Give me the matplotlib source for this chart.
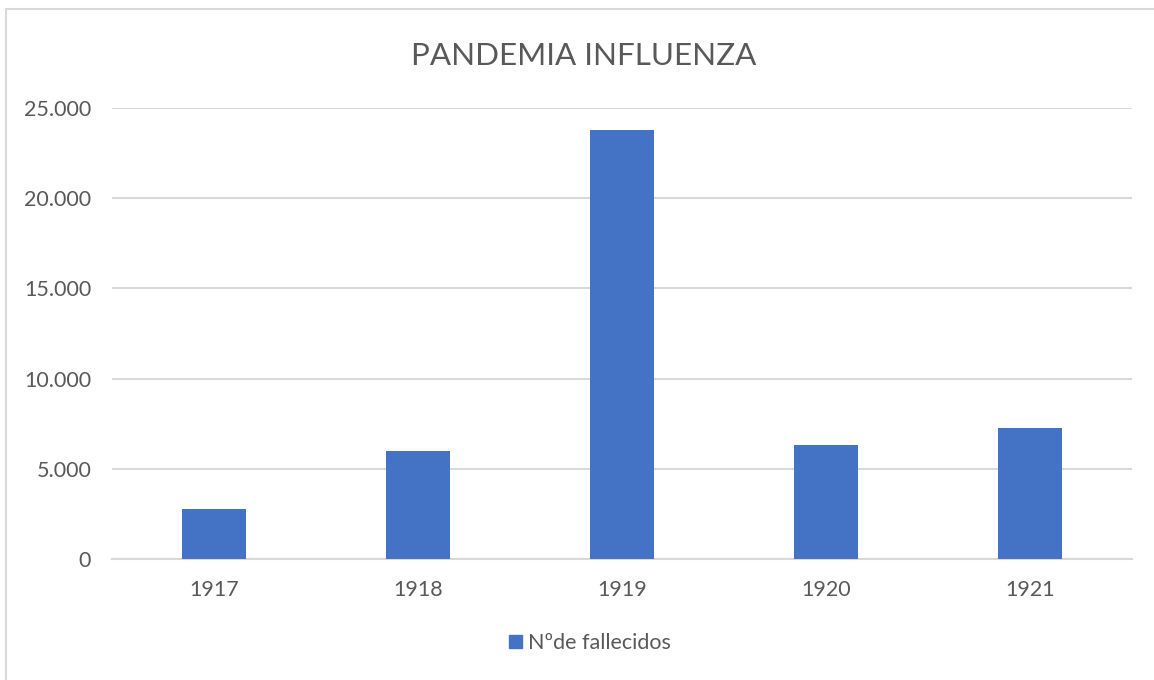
import matplotlib
matplotlib.use("Agg")
import matplotlib.pyplot as plt
from matplotlib.ticker import FuncFormatter
from matplotlib.lines import Line2D
from matplotlib.patches import Patch

years = ["1917", "1918", "1919", "1920", "1921"]
deaths = [2750, 6000, 23800, 6300, 7250]
title = "PANDEMIA INFLUENZA"
series_name = "Nºde fallecidos"

W, H = 1154, 680
fig = plt.figure(figsize=(W / 100, H / 100), dpi=100)
plt.rcParams['font.family'] = ['Lato', 'DejaVu Sans']

ax = fig.add_axes([112 / W, 1 - 559 / H, (1132 - 112) / W, (559 - 108) / H])
x = list(range(len(years)))
ax.bar(x, deaths, width=0.31, color="#4472c4", zorder=3, label=series_name)
ax.set_xlim(-0.5, len(years) - 0.5)
ax.set_ylim(0, 25000)
ax.set_yticks([0, 5000, 10000, 15000, 20000, 25000])
ax.yaxis.set_major_formatter(FuncFormatter(lambda v, p: f"{int(v):,}".replace(",", ".")))
ax.set_xticks(x)
ax.set_xticklabels(years)
ax.grid(axis="y", color="#d9d9d9", linewidth=1.5, zorder=0)
for s in ["top", "right", "left"]:
    ax.spines[s].set_visible(False)
ax.spines["bottom"].set_color("#d9d9d9")
ax.spines["bottom"].set_linewidth(1.5)
ax.tick_params(axis="both", length=0, labelsize=15.5, colors="#595959")
ax.tick_params(axis="x", pad=15)
ax.tick_params(axis="y", pad=15)

fig.text(584 / W, 1 - 56 / H, title, ha="center", va="center", fontsize=22.6, color="#595959")

leg = fig.legend(handles=[Patch(color="#4472c4", label=series_name)], loc="center",
                 bbox_to_anchor=(590 / W, 1 - 643 / H), frameon=False, fontsize=15.5,
                 handlelength=0.6, handleheight=0.6, handletextpad=0.25)
for t in leg.get_texts():
    t.set_color("#595959")

# outer chart border (left/top visible)
fig.add_artist(Line2D([6 / W, 6 / W], [0, 1 - 9 / H], color="#d9d9d9", linewidth=1.5))
fig.add_artist(Line2D([6 / W, 1], [1 - 9 / H, 1 - 9 / H], color="#d9d9d9", linewidth=1.5))

fig.savefig("out.png", dpi=100)
